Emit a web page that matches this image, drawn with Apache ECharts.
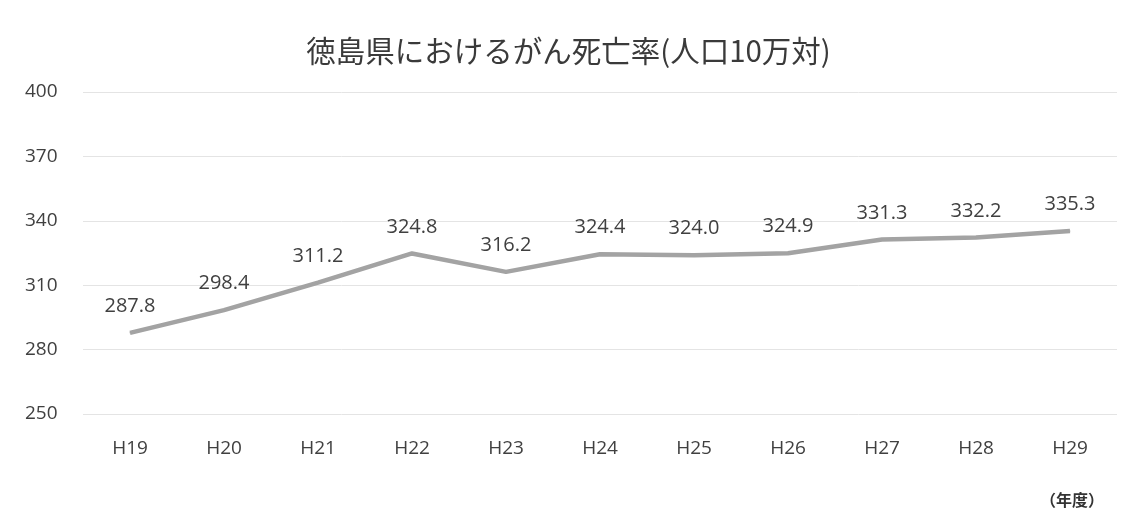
<!DOCTYPE html>
<html>
<head>
<meta charset="utf-8">
<style>
  html, body { margin: 0; padding: 0; background: #fff; }
  #chart { width: 1137px; height: 515px; }
</style>
<script src="https://cdn.jsdelivr.net/npm/echarts@6/dist/echarts.min.js"></script>
</head>
<body>
<div id="chart"></div>
<script>
const years = ['H19', 'H20', 'H21', 'H22', 'H23', 'H24', 'H25', 'H26', 'H27', 'H28', 'H29']
const rates = [287.8, 298.4, 311.2, 324.8, 316.2, 324.4, 324.0, 324.9, 331.3, 332.2, 335.3]

const chart = echarts.init(document.getElementById('chart'))

const font = '"Open Sans", "Noto Sans CJK JP", sans-serif'

const option = {
  backgroundColor: '#fff',
  title: {
    text: '徳島県におけるがん死亡率(人口10万対)',
    left: 'center',
    top: 31,
    textStyle: {
      color: '#3a3a3a',
      fontSize: 29.5,
      fontWeight: 'normal',
      fontFamily: '"Noto Sans CJK JP", sans-serif'
    }
  },
  grid: {
    left: 83,
    right: 20,
    top: 92,
    bottom: 101
  },
  xAxis: {
    type: 'category',
    data: years,
    boundaryGap: true,
    axisLine: { show: false },
    axisTick: { show: false },
    axisLabel: {
      color: '#404040',
      fontSize: 19,
      fontFamily: font,
      margin: 25
    }
  },
  yAxis: {
    type: 'value',
    min: 250,
    max: 400,
    interval: 30,
    axisLine: { show: false },
    axisTick: { show: false },
    splitLine: { lineStyle: { color: '#e4e4e4', width: 1 } },
    axisLabel: {
      color: '#404040',
      fontSize: 19,
      fontFamily: font,
      align: 'left',
      margin: 58
    }
  },
  series: [
    {
      type: 'line',
      data: rates,
      showSymbol: true,
      symbol: 'circle',
      symbolSize: 1,
      itemStyle: { color: '#a3a3a3' },
      lineStyle: { color: '#a3a3a3', width: 4.5 },
      label: {
        show: true,
        position: 'top',
        distance: 16,
        color: '#404040',
        fontSize: 20,
        fontFamily: font,
        formatter: p => p.value.toFixed(1)
      }
    }
  ],
  graphic: [
    {
      type: 'text',
      left: 1040,
      top: 492,
      style: {
        text: '（年度）',
        fill: '#333',
        font: 'bold 16px "Noto Sans CJK JP", sans-serif'
      }
    }
  ]
}

chart.setOption(option)
</script>
</body>
</html>
